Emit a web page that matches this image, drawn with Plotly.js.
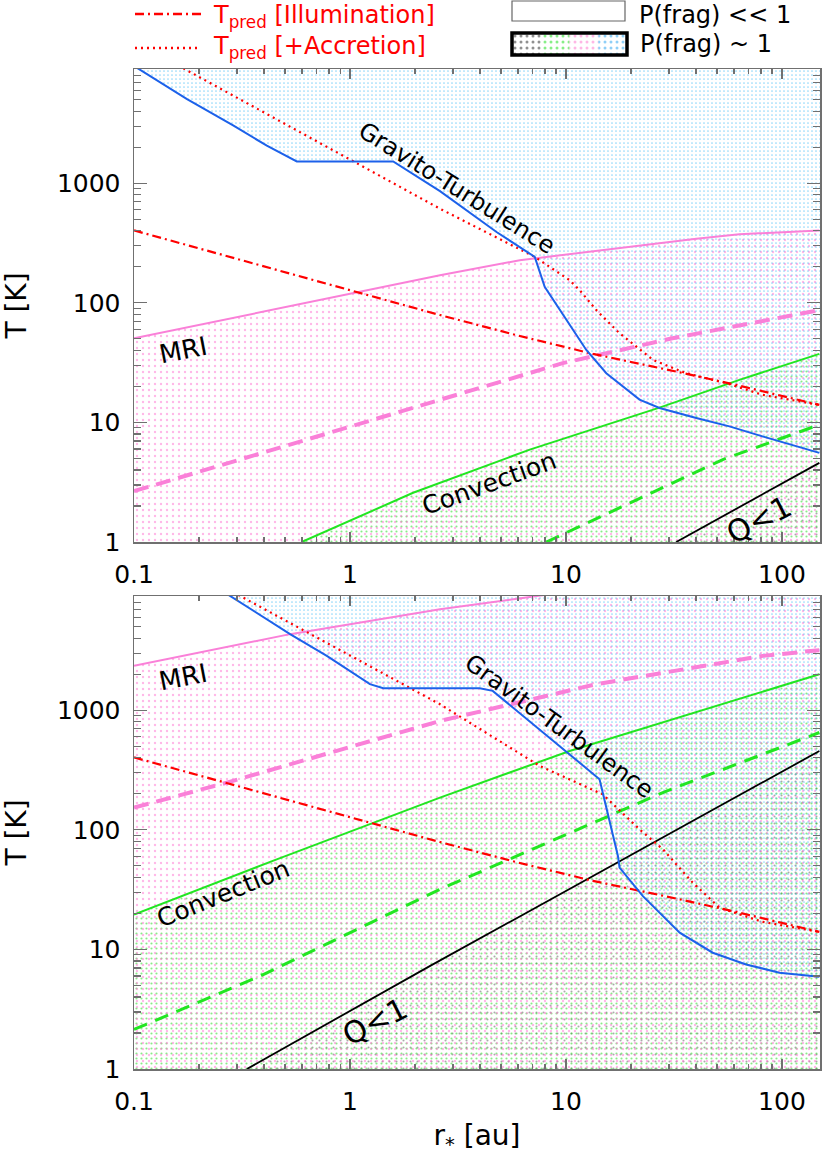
<!DOCTYPE html>
<html><head><meta charset="utf-8">
<script src="https://cdn.plot.ly/plotly-3.0.1.min.js"></script>
<style>body{margin:0;background:#fff}#chart{width:822px;height:1156px}</style>
</head><body><div id="chart"></div>
<script>
// ---------- data ----------
// common: T_pred [Illumination]
const R_ILLUM = [0.1, 1, 2.61, 6.11, 13.33, 32.4, 61.3, 149];
const T_ILLUM = [403, 127.5, 79, 52.8, 37.4, 26.6, 20.6, 14.0];

// top panel
const R_GT_A  = [0.1, 0.176, 0.289, 0.412, 0.567, 1.585, 2.61, 4.77, 7.17, 7.97, 12.42, 15.37, 21.9, 27.1, 40.1, 57.1, 81.2, 149];
const T_GT_A  = [9550, 5050, 3030, 2060, 1520, 1520, 858, 391, 242, 136, 40.3, 25.8, 15.5, 13.2, 10.9, 9.26, 7.64, 5.56];
const R_MRI_A = [0.1, 1, 2.61, 6.11, 40.1, 63.5, 149];
const T_MRI_A = [50.5, 119, 170, 227, 344, 374, 403];
const R_MRID_A = [0.1, 1, 2.61, 6.11, 9.66, 31.1, 63.5, 149];
const T_MRID_A = [2.66, 9.2, 15.5, 24.2, 31.3, 50.5, 65.2, 86.9];
const R_CONV_A = [0.598, 1.96, 6.8, 27.1, 63.5, 149];
const T_CONV_A = [1, 2.58, 5.92, 13.3, 22.7, 37.4];
const R_CONVD_A = [8.11, 53.2, 149];
const T_CONVD_A = [1, 4.89, 9.57];
const R_Q_A = [32.4, 149];
const T_Q_A = [1, 4.59];
const R_ACC_A = [0.16, 2.61, 7.17, 10.4, 11.57, 13.82, 17.7, 25.3, 36.0, 55.2, 81.2, 149];
const T_ACC_A = [9650, 612, 242, 154.6, 127.6, 86.9, 55.6, 33.3, 25.8, 21.3, 17.0, 14.0];

// bottom panel
const R_GT_B  = [0.274, 0.528, 0.781, 1.237, 1.426, 3.99, 4.58, 13.8, 14.3, 17.4, 17.7, 22.7, 33.6, 47.8, 68.2, 97.3, 149];
const T_GT_B  = [9200, 4326, 2847, 1651, 1528, 1528, 1451, 282, 265, 60.4, 48.3, 27.9, 13.8, 9.38, 7.49, 6.38, 5.91];
const R_MRI_B = [0.1, 0.528, 2.61, 7.97];
const T_MRI_B = [2350, 4326, 7000, 9200];
const R_MRID_B = [0.1, 0.269, 2.61, 13.8, 81.5, 149];
const T_MRID_B = [153.4, 248, 813, 1651, 2847, 3178];
const R_CONV_B = [0.1, 0.458, 2.61, 10.4, 149];
const T_CONV_B = [19.6, 56.6, 186, 456, 2000];
const R_CONVD_B = [0.1, 0.384, 2.61, 28.1, 149];
const T_CONVD_B = [2.14, 5.98, 31.8, 205, 651];
const R_Q_B = [0.333, 2.34, 149];
const T_Q_B = [1, 7.25, 456];
const R_ACC_B = [0.304, 2.61, 7.56, 14.8, 21.9, 28.1, 38.6, 51.4, 81.2, 149];
const T_ACC_B = [9200, 1122, 342, 198, 101, 68.7, 36.2, 22.3, 17.0, 14.0];

// ticks
const X_TICKS = [0.1, 1, 10, 100];
const X_TICKTEXT = ['0.1', '1', '10', '100'];
const Y_TICKS = [1, 10, 100, 1000];
const Y_TICKTEXT = ['1', '10', '100', '1000'];
const LEGEND_PATTERN_COLORS = ['#222222', '#10dd10', '#ff70cc', '#1f9ff0'];

// ---------- styling ----------
const FONT = 'DejaVu Sans, Verdana, sans-serif';
const X_MIN = 0.1, X_MAX = 150, Y_FLOOR = 0.3, Y_CEIL = 1e5;
const C_BLUE = '#1c61ea', C_PINK = '#fa80d8', C_GREEN = '#22e622', C_RED = '#ff0000';
const P_BLUE = '#22b0f6', P_PINK = '#ff6fcf', P_GREEN = '#12d812', P_BLACK = '#555555';

function minorVals(lo, hi) {
  const v = [];
  for (let e = lo; e <= hi; e++) for (let m = 2; m <= 9; m++) v.push(m * Math.pow(10, e));
  return v;
}
function belowPoly(xs, ys) {
  return { x: xs.concat([X_MAX, X_MAX, xs[0]]), y: ys.concat([ys[ys.length - 1], Y_FLOOR, Y_FLOOR]) };
}
function abovePoly(xs, ys) {
  return { x: xs.concat([X_MAX, X_MAX, xs[0]]), y: ys.concat([ys[ys.length - 1], Y_CEIL, Y_CEIL]) };
}
function patt(color, size, sol) {
  return { shape: '.', fgcolor: color, bgcolor: 'rgba(0,0,0,0)', size: size, solidity: sol, fillmode: 'overlay' };
}
function fillTrace(poly, color, size, sol, xa, ya) {
  return { x: poly.x, y: poly.y, xaxis: xa, yaxis: ya, mode: 'lines', fill: 'toself',
           fillcolor: 'rgba(0,0,0,0)', fillpattern: patt(color, size, sol), line: { width: 0 }, hoverinfo: 'skip', showlegend: false };
}
function lineTrace(xs, ys, color, width, dash, xa, ya, name) {
  return { x: xs, y: ys, xaxis: xa, yaxis: ya, mode: 'lines', name: name,
           line: { color: color, width: width, dash: dash }, showlegend: false };
}

const DASHDOT = '9px,4px,2px,4px';
const DOTTED = '2px,4px';
const PDASH = '15px,8px';
const GDASH = '14px,9px';

function panel(xa, ya, d) {
  return [
    fillTrace(belowPoly(d.rq, d.tq), P_BLACK, 7, 0.07, xa, ya),
    fillTrace(belowPoly(d.rc, d.tc), P_GREEN, 5, 0.15, xa, ya),
    fillTrace(belowPoly(d.rm, d.tm), P_PINK, 6, 0.12, xa, ya),
    fillTrace(abovePoly(d.rg, d.tg), P_BLUE, 4, 0.14, xa, ya),
    lineTrace(d.rmd, d.tmd, C_PINK, 4, PDASH, xa, ya, 'MRI (dashed)'),
    lineTrace(d.rcd, d.tcd, C_GREEN, 3, GDASH, xa, ya, 'Convection (dashed)'),
    lineTrace(d.rm, d.tm, C_PINK, 2, 'solid', xa, ya, 'MRI'),
    lineTrace(d.rc, d.tc, C_GREEN, 2, 'solid', xa, ya, 'Convection'),
    lineTrace(d.rq, d.tq, '#000000', 1.8, 'solid', xa, ya, 'Q<1'),
    lineTrace(R_ILLUM, T_ILLUM, C_RED, 2.2, DASHDOT, xa, ya, 'T_pred [Illumination]'),
    lineTrace(d.ra, d.ta, C_RED, 2.2, DOTTED, xa, ya, 'T_pred [+Accretion]'),
    lineTrace(d.rg, d.tg, C_BLUE, 2, 'solid', xa, ya, 'Gravito-Turbulence')
  ];
}

const traces = [].concat(
  panel('x', 'y', { rq: R_Q_A, tq: T_Q_A, rc: R_CONV_A, tc: T_CONV_A, rm: R_MRI_A, tm: T_MRI_A, rg: R_GT_A, tg: T_GT_A,
                    rmd: R_MRID_A, tmd: T_MRID_A, rcd: R_CONVD_A, tcd: T_CONVD_A, ra: R_ACC_A, ta: T_ACC_A }),
  panel('x2', 'y2', { rq: R_Q_B, tq: T_Q_B, rc: R_CONV_B, tc: T_CONV_B, rm: R_MRI_B, tm: T_MRI_B, rg: R_GT_B, tg: T_GT_B,
                    rmd: R_MRID_B, tmd: T_MRID_B, rcd: R_CONVD_B, tcd: T_CONVD_B, ra: R_ACC_B, ta: T_ACC_B })
);

// legend swatch (patterned box) on a hidden helper axis
LEGEND_PATTERN_COLORS.forEach((c, i) => {
  traces.push({ x: [i, i + 1, i + 1, i, i], y: [0, 0, 1, 1, 0], xaxis: 'x3', yaxis: 'y3', mode: 'lines', fill: 'toself',
    fillcolor: 'rgba(0,0,0,0)', fillpattern: { shape: '.', fgcolor: c, bgcolor: 'rgba(0,0,0,0)', size: 6, solidity: 0.2, fillmode: 'overlay' },
    line: { width: 0 }, hoverinfo: 'skip', showlegend: false });
});

// ---------- layout ----------
const W = 822, H = 1156, ML = 134, MR = 2, MB = 87;
const PH = H - MB; // paper height (t = 0)
const PW = W - ML - MR;
const py = p => (PH - p) / PH;     // pixel row -> paper y
const px = p => (p - ML) / PW;     // pixel col -> paper x

const AX_COLOR = '#707070';
function xAxis(anchor, titleObj) {
  const a = {
    type: 'log', range: [Math.log10(X_MIN), Math.log10(X_MAX)], anchor: anchor,
    tickmode: 'array', tickvals: X_TICKS, ticktext: X_TICKTEXT,
    ticks: 'inside', ticklen: 10, tickwidth: 1.3, tickcolor: AX_COLOR,
    minor: { tickmode: 'array', tickvals: minorVals(-1, 2), ticks: 'inside', ticklen: 5, tickwidth: 1.2, tickcolor: AX_COLOR, showgrid: false },
    showline: true, linecolor: AX_COLOR, linewidth: 1.5, mirror: 'ticks', showgrid: false, zeroline: false,
    tickfont: { family: FONT, size: 25, color: '#000' }, ticklabelstandoff: 9
  };
  if (titleObj) a.title = titleObj;
  return a;
}
function yAxis(anchor, dom) {
  return {
    type: 'log', range: [0, 3.955], domain: dom, anchor: anchor,
    tickmode: 'array', tickvals: Y_TICKS, ticktext: Y_TICKTEXT,
    ticks: 'inside', ticklen: 13, tickwidth: 1.3, tickcolor: AX_COLOR,
    minor: { tickmode: 'array', tickvals: minorVals(0, 3), ticks: 'inside', ticklen: 7, tickwidth: 1.2, tickcolor: AX_COLOR, showgrid: false },
    showline: true, linecolor: AX_COLOR, linewidth: 1.5, mirror: 'ticks', showgrid: false, zeroline: false,
    tickfont: { family: FONT, size: 25, color: '#000' }, ticklabelstandoff: 7,
    title: { text: 'T [K]', font: { family: FONT, size: 28, color: '#000' }, standoff: 26 }
  };
}

const annFont = (s) => ({ family: FONT, size: s, color: '#000' });
function lbl(xr, yr, text, angle, size, xlog, ylog) {
  return { xref: xr, yref: yr, x: xlog, y: ylog, text: text, textangle: angle, showarrow: false,
           font: annFont(size), xanchor: 'center', yanchor: 'middle' };
}

const layout = {
  width: W, height: H, paper_bgcolor: '#fff', plot_bgcolor: '#fff',
  margin: { l: ML, r: MR, t: 0, b: MB }, showlegend: false,
  font: { family: FONT, color: '#000' },
  xaxis: xAxis('y'),
  yaxis: yAxis('x', [py(542), py(69)]),
  xaxis2: xAxis('y2', { text: 'r<sub>*</sub> [au]', font: { family: FONT, size: 28, color: '#000' }, standoff: 15 }),
  yaxis2: yAxis('x2', [0, py(596)]),
  xaxis3: { domain: [px(512), px(627)], range: [0, 4], anchor: 'y3', visible: false, fixedrange: true },
  yaxis3: { domain: [py(55), py(33)], range: [0, 1], anchor: 'x3', visible: false, fixedrange: true },
  shapes: [
    { type: 'line', xref: 'paper', yref: 'paper', x0: px(135), x1: px(201), y0: py(14), y1: py(14), line: { color: C_RED, width: 2.5, dash: DASHDOT } },
    { type: 'line', xref: 'paper', yref: 'paper', x0: px(135), x1: px(201), y0: py(48), y1: py(48), line: { color: C_RED, width: 2.5, dash: DOTTED } },
    { type: 'rect', xref: 'paper', yref: 'paper', x0: px(512), x1: px(625), y0: py(21), y1: py(1), line: { color: '#666', width: 1.2 }, fillcolor: 'rgba(0,0,0,0)' },
    { type: 'rect', xref: 'paper', yref: 'paper', x0: px(512), x1: px(627), y0: py(55), y1: py(33), line: { color: '#000', width: 3.5 }, fillcolor: 'rgba(0,0,0,0)' }
  ],
  annotations: [
    { xref: 'paper', yref: 'paper', x: px(212), y: py(0), xanchor: 'left', yanchor: 'top', showarrow: false, borderpad: 0,
      text: 'T<sub>pred</sub> [Illumination]', font: { family: FONT, size: 24, color: C_RED } },
    { xref: 'paper', yref: 'paper', x: px(212), y: py(31), xanchor: 'left', yanchor: 'top', showarrow: false, borderpad: 0,
      text: 'T<sub>pred</sub> [+Accretion]', font: { family: FONT, size: 24, color: C_RED } },
    { xref: 'paper', yref: 'paper', x: px(638), y: py(0), xanchor: 'left', yanchor: 'top', showarrow: false, borderpad: 0,
      text: 'P(frag) &lt;&lt; 1', font: annFont(24) },
    { xref: 'paper', yref: 'paper', x: px(638), y: py(44), xanchor: 'left', yanchor: 'middle', showarrow: false,
      text: 'P(frag) ~ 1', font: annFont(24) },
    lbl('x', 'y', 'Gravito-Turbulence', 32, 24, 0.4947, 2.964),
    lbl('x', 'y', 'MRI', -11, 26, -0.772, 1.606),
    lbl('x', 'y', 'Convection', -20, 25, 0.6426, 0.489),
    lbl('x', 'y', 'Q&lt;1', -27, 30, 1.8955, 0.19),
    lbl('x2', 'y2', 'MRI', -11, 26, -0.772, 3.276),
    lbl('x2', 'y2', 'Gravito-Turbulence', 36, 24, 0.966, 2.866),
    lbl('x2', 'y2', 'Convection', -22, 25, -0.587, 1.469),
    lbl('x2', 'y2', 'Q&lt;1', -27, 30, 0.1156, 0.3975)
  ]
};

Plotly.newPlot('chart', traces, layout, { staticPlot: true, displayModeBar: false });
</script></body></html>
